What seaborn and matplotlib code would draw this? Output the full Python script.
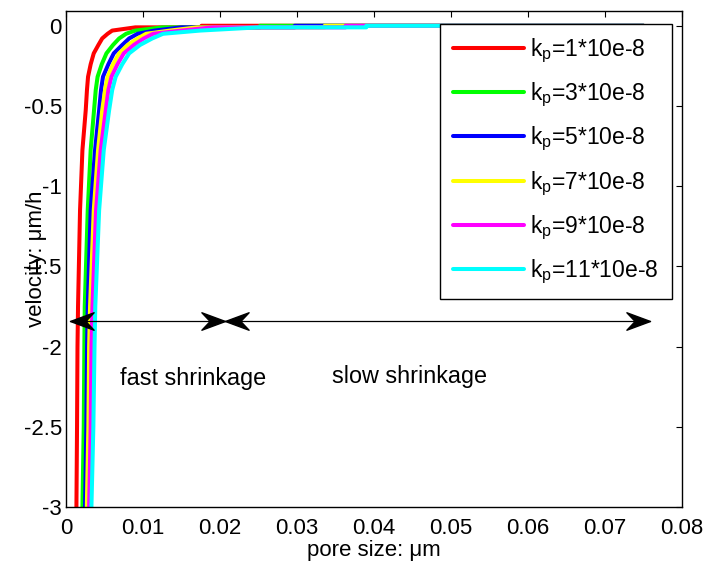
import numpy as np
import pandas as pd
import matplotlib
matplotlib.use("Agg")
import matplotlib.pyplot as plt
from matplotlib.path import Path
from matplotlib.ticker import FuncFormatter, MultipleLocator
import seaborn as sns

# velocity levels (um/h) shared by all curves
velocity = [-3.0, -2.5, -2.0, -1.75, -1.15, -0.775, -0.526, -0.4, -0.318, -0.24,
            -0.172, -0.12, -0.079, -0.05, -0.03, -0.01, -0.01, 0.0, 0.0]

# pore size (um, x1e-3) at each velocity level, one list per permeability
pore_k1 = [1.35, 1.43, 1.49, 1.56, 1.82, 2.13, 2.56, 2.72, 2.86, 3.20,
           3.60, 4.20, 4.70, 5.40, 6.0, 9.0, 17.6, 17.6, 75]
pore_k3 = [2.13, 2.30, 2.38, 2.43, 2.82, 3.20, 3.64, 3.86, 4.10, 4.64,
           5.25, 6.10, 6.90, 7.80, 9.0, 12.5, 25.2, 25.2, 75]
pore_k5 = [2.47, 2.64, 2.73, 2.82, 3.20, 3.77, 4.30, 4.55, 4.80, 5.50,
           6.20, 7.30, 8.20, 9.30, 11.5, 15.0, 29.7, 29.7, 75]
pore_k7 = [2.70, 2.90, 3.00, 3.12, 3.60, 4.16, 4.70, 5.07, 5.40, 6.10,
           6.90, 8.00, 9.30, 10.4, 13.5, 17.0, 33.6, 33.6, 75]
pore_k9 = [3.00, 3.20, 3.30, 3.43, 3.90, 4.50, 5.16, 5.50, 5.90, 6.68,
           7.50, 8.80, 10.1, 11.3, 15.0, 19.0, 36.3, 36.3, 75]
pore_k11 = [3.30, 3.55, 3.70, 3.80, 4.30, 4.90, 5.60, 6.00, 6.45, 7.30,
            8.20, 9.60, 11.2, 12.6, 17.4, 25.0, 39.0, 39.0, 75]

labels = [r"k$_{p}$=1*10e-8", r"k$_{p}$=3*10e-8", r"k$_{p}$=5*10e-8",
          r"k$_{p}$=7*10e-8", r"k$_{p}$=9*10e-8", r"k$_{p}$=11*10e-8"]
colors = ["#ff0000", "#00ff00", "#0000ff", "#ffff00", "#ff00ff", "#00ffff"]

series = [pore_k1, pore_k3, pore_k5, pore_k7, pore_k9, pore_k11]
frames = []
for lab, xs in zip(labels, series):
    frames.append(pd.DataFrame({"pore": np.array(xs) * 1e-3,
                                "velocity": velocity,
                                "kp": lab}))
df = pd.concat(frames, ignore_index=True)

sns.set_style("white")
plt.rcParams["font.family"] = ["Liberation Sans", "DejaVu Sans"]
plt.rcParams["mathtext.fontset"] = "custom"
plt.rcParams["mathtext.rm"] = "Liberation Sans"
plt.rcParams["mathtext.it"] = "Liberation Sans"
plt.rcParams["mathtext.default"] = "regular"
plt.rcParams["axes.unicode_minus"] = False
for key in ["text.color", "axes.labelcolor", "xtick.color", "ytick.color",
            "axes.edgecolor"]:
    plt.rcParams[key] = "black"

fig = plt.figure(figsize=(7.13, 5.73), dpi=100)
ax = fig.add_axes([0.0926, 0.1152, 0.8639, 0.8656])

sns.lineplot(data=df, x="pore", y="velocity", hue="kp", palette=colors,
             hue_order=labels, sort=False, estimator=None, linewidth=2.9,
             ax=ax)

ax.set_xlim(0, 0.08)
ax.set_ylim(-3, 0.092)
ax.xaxis.set_major_locator(MultipleLocator(0.01))
ax.yaxis.set_major_locator(MultipleLocator(0.5))
fmt = FuncFormatter(lambda v, p: "%g" % round(v, 6))
ax.xaxis.set_major_formatter(fmt)
ax.yaxis.set_major_formatter(fmt)

for s in ax.spines.values():
    s.set_visible(True)
    s.set_color("black")
    s.set_linewidth(1.0)
ax.tick_params(direction="in", length=4, width=0.8, colors="black",
               top=True, right=True, labelsize=16)
ax.tick_params(axis="x", pad=8)
ax.tick_params(axis="y", pad=3)

ax.set_xlabel("pore size: μm", fontsize=16, labelpad=1)
ax.set_ylabel("velocity: μm/h", fontsize=16)
ax.yaxis.set_label_coords(-0.031, 0.5)

# two-headed span markers for the shrinkage regimes
head_r = Path([(0, 0), (-1, 0.37), (-0.65, 0), (-1, -0.37), (0, 0)],
              [Path.MOVETO, Path.LINETO, Path.LINETO, Path.LINETO, Path.CLOSEPOLY])
head_l = Path([(0, 0), (1, 0.37), (0.65, 0), (1, -0.37), (0, 0)],
              [Path.MOVETO, Path.LINETO, Path.LINETO, Path.LINETO, Path.CLOSEPOLY])
arrow_y = -1.842
x_left, x_mid, x_right = 0.00057, 0.0206, 0.0759
ax.plot([x_left, x_right], [arrow_y, arrow_y], color="black", lw=0.9, zorder=6)
for xpos, head in [(x_left, head_l), (x_mid, head_r), (x_mid, head_l),
                   (x_right, head_r)]:
    ax.plot([xpos], [arrow_y], ls="none", marker=head, markersize=34,
            color="black", zorder=7)

ax.text(0.0070, -2.2, "fast shrinkage", fontsize=16.8, va="center", ha="left")
ax.text(0.0345, -2.185, "slow shrinkage", fontsize=16.8, va="center", ha="left")

handles, labs = ax.get_legend_handles_labels()
for h in handles:
    h.set_linewidth(2.9)
leg = ax.legend(handles, labs, loc="upper right", bbox_to_anchor=(0.983, 0.974),
                fontsize=16.5, frameon=True, fancybox=False, framealpha=1,
                edgecolor="black", handlelength=3.1, handletextpad=0.3,
                labelspacing=0.69, borderpad=0.55, borderaxespad=0)
leg.get_frame().set_linewidth(1.0)
leg.set_zorder(10)

fig.savefig("out.png", dpi=100)
